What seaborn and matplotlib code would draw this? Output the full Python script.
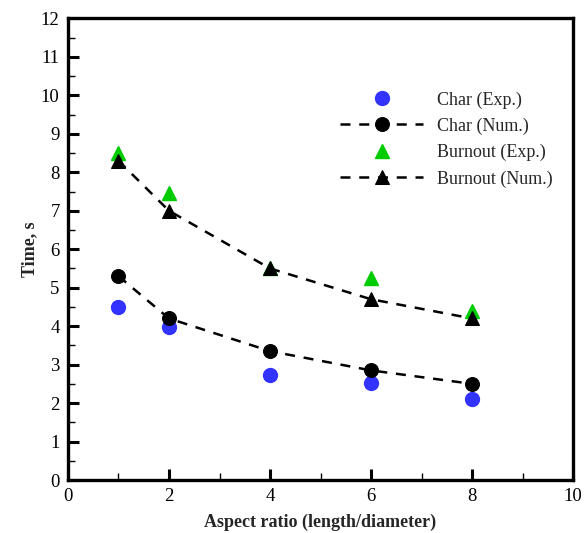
import matplotlib
matplotlib.use("Agg")
import matplotlib.pyplot as plt
from matplotlib.ticker import MultipleLocator
import seaborn as sns
import pandas as pd

aspect_ratio = [1, 2, 4, 6, 8]
char_exp = [4.5, 3.98, 2.73, 2.53, 2.1]
char_num = [5.3, 4.2, 3.35, 2.85, 2.5]
burnout_exp = [8.5, 7.45, 5.5, 5.25, 4.4]
burnout_num = [8.3, 7.0, 5.5, 4.7, 4.2]

sns.set_theme(style="white")
plt.rcParams["font.family"] = ["Liberation Serif", "DejaVu Serif"]

df = pd.DataFrame({
    "x": aspect_ratio,
    "char_exp": char_exp,
    "char_num": char_num,
    "burn_exp": burnout_exp,
    "burn_num": burnout_num,
})

fig = plt.figure(figsize=(5.86, 5.33), dpi=100)
ax = fig.add_axes([0.116, 0.0994, 0.862, 0.866])

ms = 10
dash = (4, 3.5)

h1 = ax.plot(df["x"], df["char_exp"], linestyle="none", marker="o", ms=ms,
             color="#3333ff", mec="#3333ff", zorder=3)[0]
h3 = ax.plot(df["x"], df["burn_exp"], linestyle="none", marker="^", ms=ms,
             color="#00cc00", mec="#00cc00", zorder=3)[0]

sns.lineplot(data=df, x="x", y="char_num", ax=ax, color="black", lw=1.8,
             marker="o", markersize=ms, markeredgecolor="black",
             dashes=False, zorder=4)
sns.lineplot(data=df, x="x", y="burn_num", ax=ax, color="black", lw=1.8,
             marker="^", markersize=ms, markeredgecolor="black",
             dashes=False, zorder=4)
for ln in ax.lines[2:]:
    ln.set_linestyle((0, dash))

h2, h4 = ax.lines[2], ax.lines[3]

ax.set_xlim(0, 10)
ax.set_ylim(0, 12)
ax.xaxis.set_major_locator(MultipleLocator(2))
ax.xaxis.set_minor_locator(MultipleLocator(1))
ax.yaxis.set_major_locator(MultipleLocator(1))
ax.yaxis.set_minor_locator(MultipleLocator(0.5))
ax.tick_params(which="both", direction="in", top=False, right=False,
               labelsize=13.5, colors="black", pad=6)
ax.tick_params(which="major", length=8, width=2.2, left=True, bottom=True)
ax.tick_params(which="minor", length=5, width=1, left=True, bottom=True)
for s in ax.spines.values():
    s.set_linewidth(2.4)
    s.set_color("black")

ax.set_xlabel("Aspect ratio (length/diameter)", fontsize=13, fontweight="bold", labelpad=6)
ax.set_ylabel("Time, s", fontsize=13, fontweight="bold", labelpad=2)

leg = ax.legend([h1, h2, h3, h4],
                ["Char (Exp.)", "Char (Num.)", "Burnout (Exp.)", "Burnout (Num.)"],
                loc="upper left", bbox_to_anchor=(0.525, 0.858), frameon=False,
                fontsize=13, handlelength=4.6, handletextpad=0.75,
                labelspacing=0.5, borderaxespad=0)

fig.savefig("out.png", dpi=100)
